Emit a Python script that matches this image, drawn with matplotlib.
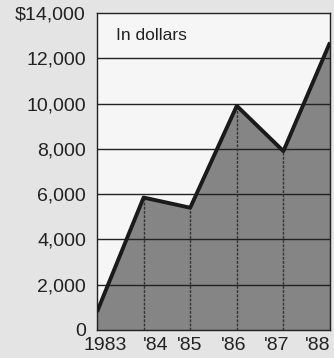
import numpy as np
import matplotlib
matplotlib.use("Agg")
import matplotlib.pyplot as plt
from matplotlib.transforms import ScaledTranslation

# Data (dollars)
years = [0, 1, 2, 3, 4, 5]
year_labels = ["1983", "'84", "'85", "'86", "'87", "'88"]
values = [800, 5850, 5400, 9900, 7900, 12700]
y_ticks = [0, 2000, 4000, 6000, 8000, 10000, 12000, 14000]
y_labels = ["0", "2,000", "4,000", "6,000", "8,000", "10,000", "12,000", "$14,000"]

plt.rcParams['font.family'] = ['Liberation Sans', 'DejaVu Sans']

fig = plt.figure(figsize=(3.34, 3.58), dpi=100, facecolor='#e4e4e4')
ax = fig.add_axes([97 / 334, 28 / 358, 233 / 334, 317 / 358])
ax.set_facecolor('#f6f6f6')

# Area and outline
ax.fill_between(years, values, 0, color='#858585', zorder=1)
ax.plot(years, values, color='#1a1a1a', linewidth=2.8, zorder=4, solid_capstyle='butt')

# Grid: horizontal lines full width, vertical ones only inside the shaded area
for y in y_ticks[1:-1]:
    ax.axhline(y, color='#222222', linewidth=1.0, zorder=3)
ax.vlines(years[1:-1], 0, values[1:-1], color='#333333', linewidth=1.0,
          linestyle=(0, (2, 1)), zorder=3)

ax.set_xlim(0, 5)
ax.set_ylim(0, 14000)
ax.set_yticks(y_ticks)
ax.set_yticklabels(y_labels, fontsize=14, color='#222222')
ax.set_xticks(years)
ax.set_xticklabels(year_labels, fontsize=14, color='#222222')
ax.tick_params(axis='y', length=0, pad=8)
ax.tick_params(axis='x', length=0, pad=5)

# nudge year labels sideways as in the original
shifts = [8, 12, -1, -3, -7, -12]
for lab, dx in zip(ax.get_xticklabels(), shifts):
    lab.set_transform(lab.get_transform() + ScaledTranslation(dx / 100, 0, fig.dpi_scale_trans))

for side in ['top', 'bottom', 'left', 'right']:
    ax.spines[side].set_color('#222222')
    ax.spines[side].set_linewidth(1.0)

ax.text(0.08, 0.93, "In dollars", transform=ax.transAxes, fontsize=12.5,
        color='#222222', va='center', ha='left')

fig.savefig("out.png", dpi=100, facecolor=fig.get_facecolor())
